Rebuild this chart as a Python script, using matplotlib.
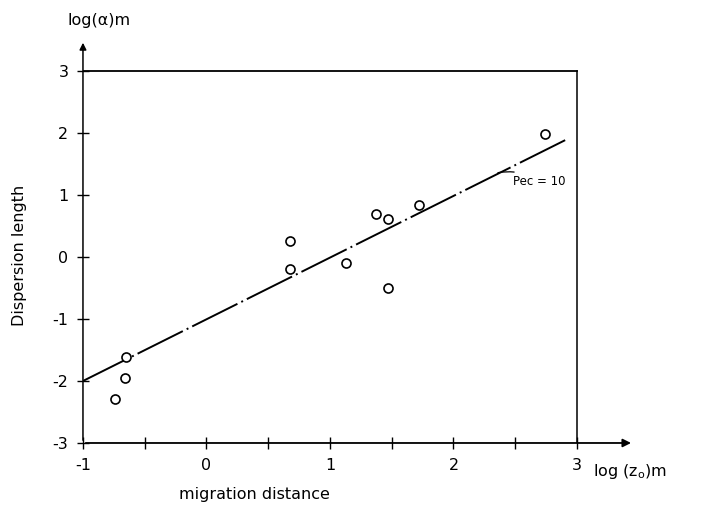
import matplotlib
matplotlib.use("Agg")
import matplotlib.pyplot as plt
import numpy as np

# data (log10 values)
log_z = [-0.74, -0.66, -0.65, 0.68, 0.68, 1.13, 1.37, 1.47, 1.47, 1.72, 2.74]
log_alpha = [-2.29, -1.95, -1.61, 0.26, -0.20, -0.10, 0.70, 0.61, -0.50, 0.84, 1.98]
fit_x = [-1.0, 2.92]
fit_y = [-2.0, 1.90]
x_major = [-1, 0, 1, 2, 3]
x_minor = [-0.5, 0.5, 1.5, 2.5]
y_major = [-3, -2, -1, 0, 1, 2, 3]

plt.rcParams['font.family'] = ['DejaVu Sans']
fig = plt.figure(figsize=(7.14, 5.11), dpi=100)
ax = fig.add_axes([0.1162, 0.1331, 0.7784, 0.8008])
ax.set_xlim(-1.0, 3.5)
ax.set_ylim(-3.0, 3.6)
ax.patch.set_visible(False)
for s in ['top', 'right', 'left', 'bottom']:
    ax.spines[s].set_visible(False)

k = 'black'
# axes with arrows
ax.annotate('', xy=(3.46, -3), xytext=(-1, -3),
            arrowprops=dict(arrowstyle='-|>', color=k, lw=1.3, mutation_scale=12),
            annotation_clip=False)
ax.annotate('', xy=(-1, 3.5), xytext=(-1, -3),
            arrowprops=dict(arrowstyle='-|>', color=k, lw=1.1, mutation_scale=10),
            annotation_clip=False)
# box
ax.plot([-1, 3], [3, 3], color=k, lw=1.3)
ax.plot([3, 3], [-3, 3], color=k, lw=1.1)

# fit line
ax.plot(fit_x, fit_y, color=k, lw=1.4, dashes=(26, 2.2, 1, 2.2))
# data points
ax.plot(log_z, log_alpha, 'o', mfc='white', mec=k, mew=1.2, ms=6.5, ls='none', zorder=5)

ax.annotate('Pec = 10', xy=(2.36, 1.36), xytext=(2.48, 1.22), fontsize=8.5,
            va='center', ha='left',
            arrowprops=dict(arrowstyle='-', color=k, lw=0.9,
                            connectionstyle='arc3,rad=0.2', shrinkA=0, shrinkB=0))

ax.set_xticks(x_major)
ax.set_xticklabels([str(v) for v in x_major])
ax.set_xticks(x_minor, minor=True)
ax.set_yticks(y_major)
ax.set_yticklabels([str(v) for v in y_major])
ax.tick_params(axis='both', which='both', direction='inout', length=9, width=1.0,
               labelsize=11.5, colors=k)
ax.tick_params(axis='x', pad=6)
ax.tick_params(axis='y', pad=6)

fig.text(0.095, 0.96, 'log(\u03b1)m', fontsize=11.5, ha='left', va='center')
fig.text(0.83, 0.077, 'log (z$_\\mathregular{o}$)m', fontsize=11.5, ha='left', va='center')
fig.text(0.357, 0.033, 'migration distance', fontsize=11.5, ha='center', va='center')
fig.text(0.028, 0.5, 'Dispersion length', fontsize=11.5, rotation=90, ha='center', va='center')

fig.savefig('out.png', dpi=100)
